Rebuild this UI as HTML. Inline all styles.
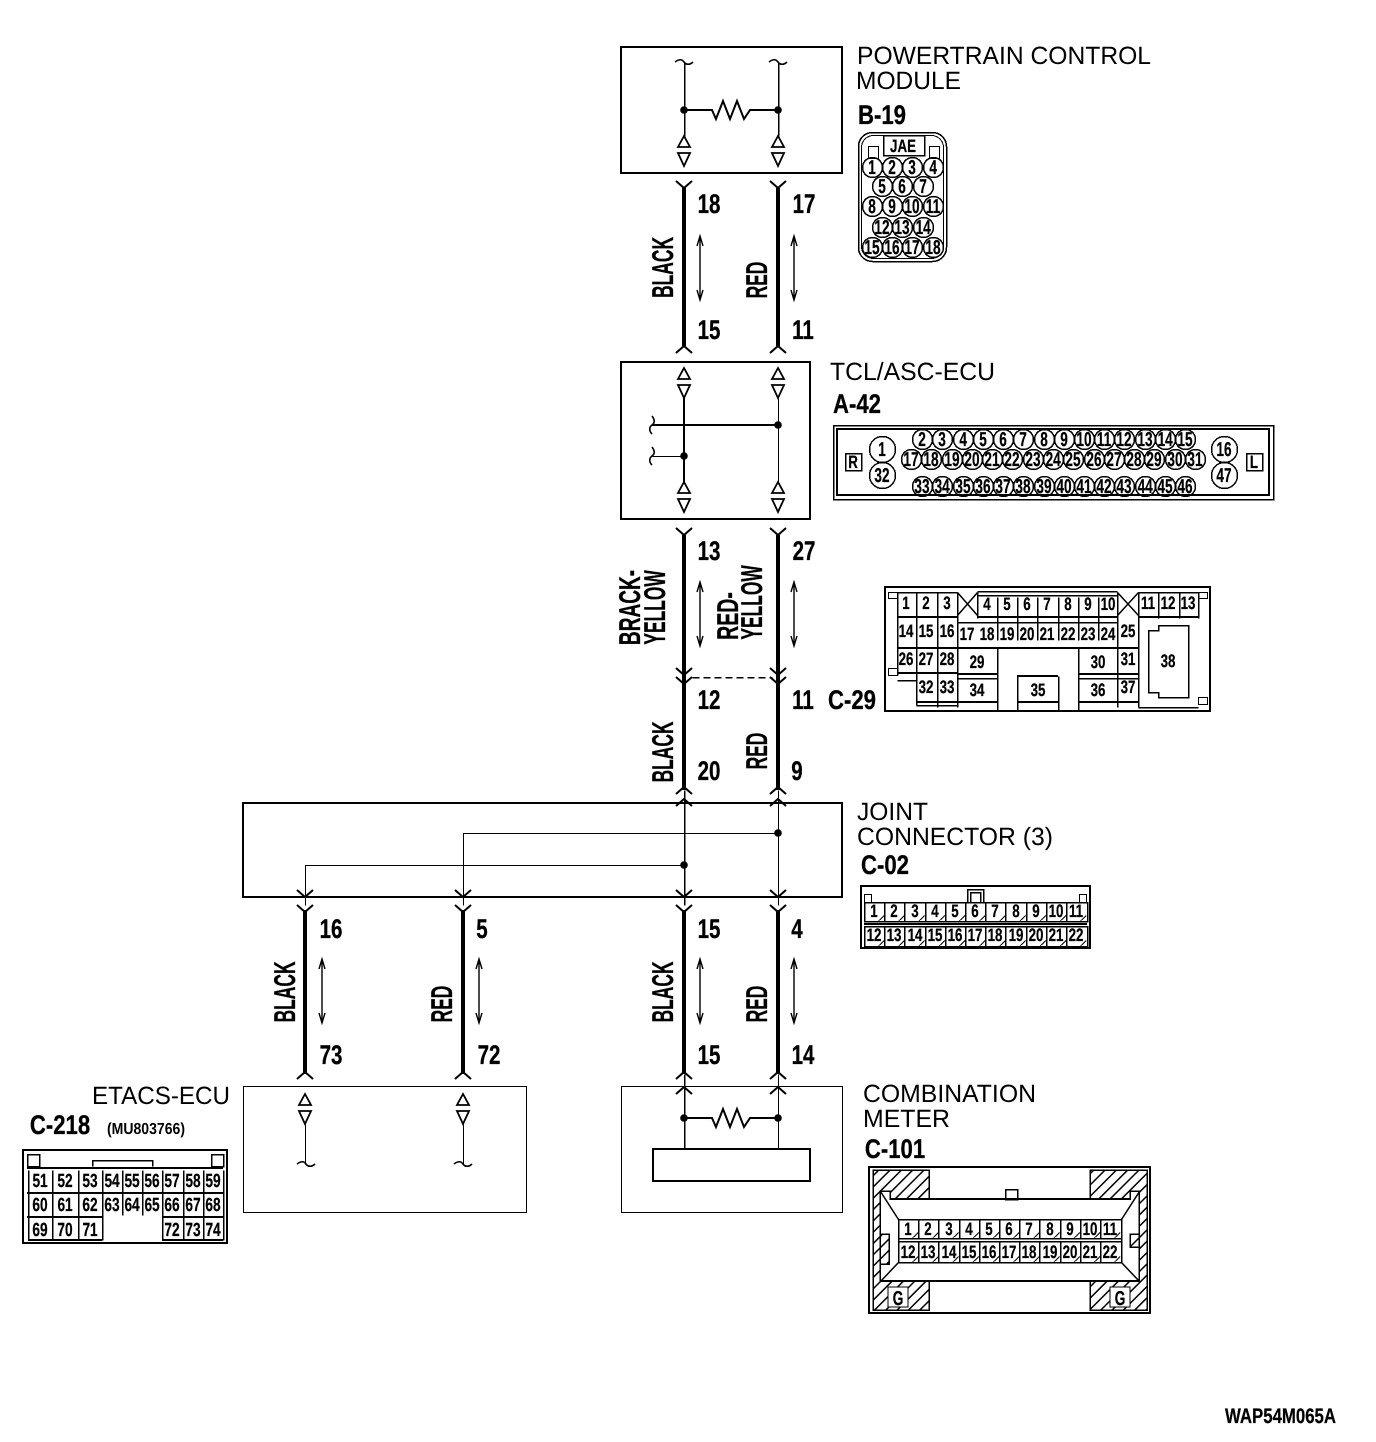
<!DOCTYPE html>
<html>
<head>
<meta charset="utf-8">
<style>
html,body{margin:0;padding:0;background:#fff}
svg{display:block}
text{fill:#000;text-rendering:geometricPrecision}
.t{font:25px "Liberation Sans",sans-serif}
.h,.n,.w,.p,.q,.r{font-family:"Liberation Sans",sans-serif;font-weight:bold;text-anchor:middle;transform-box:fill-box;transform-origin:center;stroke:#000}
.h{font-size:27px;transform:scaleX(.82);stroke-width:.3}
.n{font-size:27px;transform:scaleX(.76);stroke-width:.3}
.w{font-size:30px;transform:scaleX(.58);stroke-width:.3}
.p{font-size:20px;transform:scaleX(.68);stroke-width:.25}
.q{font-size:18px;transform:scaleX(.74);stroke-width:.25}
.r{font-size:19px;transform:scaleX(.72);stroke-width:.25}
.l{fill:none;stroke:#000;stroke-width:1.5}
.b{fill:none;stroke:#000;stroke-width:2}
.c{fill:none;stroke:#000;stroke-width:1.5;transform:translate(.5px,.5px)}
.th{fill:none;stroke:#000;stroke-width:1;transform:translate(.5px,.5px)}
.W{fill:none;stroke:#000;stroke-width:4}
</style>
</head>
<body>
<svg xmlns="http://www.w3.org/2000/svg" width="1376" height="1442" viewBox="0 0 1376 1442" shape-rendering="crispEdges">
<defs>
<pattern id="hatch" patternUnits="userSpaceOnUse" width="8" height="8" patternTransform="rotate(-45)">
<rect width="8" height="8" fill="#fff"/><rect x="0" y="0" width="8" height="1.6" fill="#000"/>
</pattern>
<pattern id="t1" patternUnits="userSpaceOnUse" x="864" y="915" width="20.2" height="6"><path d="M14.5 6L20.2 .5" stroke="#000" stroke-width="1" fill="none"/></pattern>
<pattern id="t2" patternUnits="userSpaceOnUse" x="864" y="940" width="20.2" height="6"><path d="M14.5 6L20.2 .5" stroke="#000" stroke-width="1" fill="none"/></pattern>
<pattern id="t3" patternUnits="userSpaceOnUse" x="898" y="1232" width="20.2" height="6"><path d="M14.5 6L20.2 .5" stroke="#000" stroke-width="1" fill="none"/></pattern>
<pattern id="t4" patternUnits="userSpaceOnUse" x="898" y="1256" width="20.2" height="6"><path d="M14.5 6L20.2 .5" stroke="#000" stroke-width="1" fill="none"/></pattern>
<path id="tri" d="M0 0L-6 11H6ZM-6 17H6L0 30Z" fill="#fff" stroke="#000" stroke-width="1.8" shape-rendering="auto"/>
<path id="ydn" d="M-8 -7L0 0L8 -7" fill="none" stroke="#000" stroke-width="2" shape-rendering="auto"/>
<path id="yup" d="M-8 7L0 0L8 7" fill="none" stroke="#000" stroke-width="2" shape-rendering="auto"/>
<path id="dot" d="M-3.8 0a3.8 3.8 0 1 0 7.6 0a3.8 3.8 0 1 0 -7.6 0Z" fill="#000" shape-rendering="auto"/>
<path id="arr" d="M0 0V64M-3 10L0 0L3 10M-3 54L0 64L3 54" fill="none" stroke="#000" stroke-width="1.4" shape-rendering="auto"/>
<path id="res" d="M0 0H28L32 9L39 -9L46 9L53 -9L60 9L66 0H94" fill="none" stroke="#000" stroke-width="2" shape-rendering="auto"/>
<path id="til" d="M-9 0C-5 -3 -2 -3 0 0C2 3 6 3 9 0" fill="none" stroke="#000" stroke-width="1.6" shape-rendering="auto"/>
</defs>

<!-- Main boxes -->
<rect x="621" y="47" width="221" height="126" class="b"/>
<rect x="621" y="362" width="189" height="157" class="b"/>
<rect x="243" y="803" width="599" height="94" class="b"/>
<rect x="243" y="1086" width="283" height="126" class="th"/>
<rect x="621" y="1086" width="221" height="126" class="th"/>
<rect x="653" y="1149" width="157" height="32" class="b"/>

<!-- PCM interior -->
<path class="c" d="M684 62V136M778 62V136"/>
<use href="#til" x="684" y="62"/><use href="#til" x="778" y="62"/>
<use href="#dot" x="684" y="110"/><use href="#dot" x="778" y="110"/>
<use href="#res" x="684" y="110"/>
<use href="#tri" x="684" y="136"/><use href="#tri" x="778" y="136"/>

<!-- Wire section 1 -->
<path class="W" d="M684 188V346"/><path class="W" d="M778 188V346"/>
<use href="#ydn" x="684" y="188"/><use href="#ydn" x="778" y="188"/>
<use href="#yup" x="684" y="346"/><use href="#yup" x="778" y="346"/>
<use href="#arr" x="700" y="236"/><use href="#arr" x="794" y="236"/>

<!-- TCL interior -->
<use href="#tri" x="684" y="368"/><use href="#tri" x="778" y="368"/>
<path class="b" d="M684 398V482M652 425H778"/>
<path class="th" d="M778 398V482M652 456H684"/>
<use href="#dot" x="778" y="425"/><use href="#dot" x="684" y="456"/>
<g transform="translate(652 425) rotate(90)"><use href="#til"/></g>
<g transform="translate(652 456) rotate(90)"><use href="#til"/></g>
<use href="#tri" x="684" y="482"/><use href="#tri" x="778" y="482"/>

<!-- Wire section 2 -->
<path class="W" d="M684 535V790M778 535V790"/>
<use href="#ydn" x="684" y="535"/><use href="#ydn" x="778" y="535"/>
<use href="#ydn" x="684" y="675"/><use href="#ydn" x="778" y="675"/>
<use href="#ydn" x="684" y="684"/><use href="#ydn" x="778" y="684"/>
<path class="c" stroke-dasharray="7 4" d="M692 677H772"/>
<use href="#arr" x="700" y="582"/><use href="#arr" x="794" y="582"/>

<!-- Joint connector -->
<use href="#yup" x="684" y="787"/><use href="#yup" x="778" y="787"/>
<use href="#yup" x="684" y="799"/><use href="#yup" x="778" y="799"/>
<path class="c" d="M684 790V905"/>
<path class="th" d="M778 790V905M778 833H463V905M684 865H305V905"/>
<use href="#dot" x="778" y="833"/><use href="#dot" x="684" y="865"/>
<use href="#ydn" x="305" y="897"/><use href="#ydn" x="463" y="897"/><use href="#ydn" x="684" y="897"/><use href="#ydn" x="778" y="897"/>
<use href="#ydn" x="305" y="912"/><use href="#ydn" x="463" y="912"/><use href="#ydn" x="684" y="912"/><use href="#ydn" x="778" y="912"/>

<!-- Wire section 3 -->
<path class="W" d="M305 910V1074M463 910V1074M684 910V1074M778 910V1074"/>
<use href="#yup" x="305" y="1072"/><use href="#yup" x="463" y="1072"/><use href="#yup" x="684" y="1072"/><use href="#yup" x="778" y="1072"/>
<use href="#arr" x="322" y="959"/><use href="#arr" x="479" y="959"/><use href="#arr" x="700" y="959"/><use href="#arr" x="794" y="959"/>

<!-- ETACS interior -->
<use href="#tri" x="305" y="1094"/><use href="#tri" x="463" y="1094"/>
<path class="th" d="M305 1124V1164M463 1124V1164"/>
<use href="#til" x="306" y="1164"/><use href="#til" x="463" y="1164"/>

<!-- Combination interior -->
<use href="#yup" x="684" y="1087"/><use href="#yup" x="778" y="1087"/>
<path class="c" d="M684 1074V1149"/><path class="th" d="M778 1074V1149"/>
<use href="#dot" x="684" y="1118"/><use href="#dot" x="778" y="1118"/>
<use href="#res" x="684" y="1118"/>

<!-- Pin numbers on wires -->
<text class="n" x="709" y="213">18</text><text class="n" x="804" y="213">17</text>
<text class="n" x="709" y="339">15</text><text class="n" x="803" y="339">11</text>
<text class="n" x="709" y="560">13</text><text class="n" x="804" y="560">27</text>
<text class="n" x="709" y="709">12</text><text class="n" x="803" y="709">11</text>
<text class="n" x="709" y="780">20</text><text class="n" x="797" y="780">9</text>
<text class="n" x="331" y="938">16</text><text class="n" x="482" y="938">5</text>
<text class="n" x="709" y="938">15</text><text class="n" x="797" y="938">4</text>
<text class="n" x="331" y="1064">73</text><text class="n" x="489" y="1064">72</text>
<text class="n" x="709" y="1064">15</text><text class="n" x="803" y="1064">14</text>

<!-- Wire colour labels -->
<g transform="translate(673 267.5) rotate(-90)"><text class="w">BLACK</text></g>
<g transform="translate(767 280) rotate(-90)"><text class="w">RED</text></g>
<g transform="translate(640 607.5) rotate(-90)"><text class="w" style="transform:scaleX(.635)">BRACK-</text></g>
<g transform="translate(665 607.5) rotate(-90)"><text class="w">YELLOW</text></g>
<g transform="translate(738 616) rotate(-90)"><text class="w" style="transform:scaleX(.65)">RED-</text></g>
<g transform="translate(762 602.5) rotate(-90)"><text class="w">YELLOW</text></g>
<g transform="translate(673 752) rotate(-90)"><text class="w">BLACK</text></g>
<g transform="translate(767 751) rotate(-90)"><text class="w">RED</text></g>
<g transform="translate(295 992) rotate(-90)"><text class="w">BLACK</text></g>
<g transform="translate(452 1004) rotate(-90)"><text class="w">RED</text></g>
<g transform="translate(673 992) rotate(-90)"><text class="w">BLACK</text></g>
<g transform="translate(767 1004) rotate(-90)"><text class="w">RED</text></g>

<!-- Component names -->
<text class="t" x="857" y="64" textLength="294" lengthAdjust="spacingAndGlyphs">POWERTRAIN CONTROL</text>
<text class="t" x="856" y="89" textLength="105" lengthAdjust="spacingAndGlyphs">MODULE</text>
<text class="h" x="882" y="124">B-19</text>
<text class="t" x="830" y="380" textLength="165" lengthAdjust="spacingAndGlyphs">TCL/ASC-ECU</text>
<text class="h" x="857" y="413">A-42</text>
<text class="h" x="852" y="709">C-29</text>
<text class="t" x="857" y="820" textLength="71" lengthAdjust="spacingAndGlyphs">JOINT</text>
<text class="t" x="857" y="845" textLength="196" lengthAdjust="spacingAndGlyphs">CONNECTOR (3)</text>
<text class="h" x="885" y="874">C-02</text>
<text class="t" x="92" y="1104" textLength="138" lengthAdjust="spacingAndGlyphs">ETACS-ECU</text>
<text class="h" x="60" y="1134">C-218</text>
<text x="146" y="1134" text-anchor="middle" font-family="Liberation Sans" font-weight="bold" font-size="16" textLength="78" lengthAdjust="spacingAndGlyphs">(MU803766)</text>
<text class="t" x="863" y="1102" textLength="173" lengthAdjust="spacingAndGlyphs">COMBINATION</text>
<text class="t" x="863" y="1127" textLength="87" lengthAdjust="spacingAndGlyphs">METER</text>
<text class="h" x="895" y="1158">C-101</text>
<text x="1225" y="1423" font-family="Liberation Sans" font-weight="bold" font-size="21" stroke="#000" stroke-width=".25" textLength="111" lengthAdjust="spacingAndGlyphs">WAP54M065A</text>

<!-- B-19 connector -->
<rect x="858" y="132" width="88" height="129" rx="14" class="c"/>
<rect x="861" y="135" width="82" height="123" rx="12" class="th"/>
<rect x="883" y="135" width="41" height="20" class="c"/>
<rect x="868" y="146" width="10" height="12" class="th"/>
<rect x="929" y="146" width="10" height="12" class="th"/>
<text class="q" x="903" y="152">JAE</text>
<g class="c">
<circle cx="872" cy="167" r="10"/><circle cx="892" cy="167" r="10"/><circle cx="912" cy="167" r="10"/><circle cx="933" cy="167" r="10"/>
<circle cx="882" cy="186" r="10"/><circle cx="902" cy="186" r="10"/><circle cx="923" cy="186" r="10"/>
<circle cx="872" cy="206" r="10"/><circle cx="892" cy="206" r="10"/><circle cx="912" cy="206" r="10"/><circle cx="933" cy="206" r="10"/>
<circle cx="882" cy="227" r="10"/><circle cx="902" cy="227" r="10"/><circle cx="923" cy="227" r="10"/>
<circle cx="872" cy="247" r="10"/><circle cx="892" cy="247" r="10"/><circle cx="912" cy="247" r="10"/><circle cx="933" cy="247" r="10"/>
</g>
<text class="p" x="872" y="174">1</text><text class="p" x="892" y="174">2</text><text class="p" x="912" y="174">3</text><text class="p" x="933" y="174">4</text>
<text class="p" x="882" y="193">5</text><text class="p" x="902" y="193">6</text><text class="p" x="923" y="193">7</text>
<text class="p" x="872" y="213">8</text><text class="p" x="892" y="213">9</text><text class="p" x="912" y="213">10</text><text class="p" x="933" y="213">11</text>
<text class="p" x="882" y="234">12</text><text class="p" x="902" y="234">13</text><text class="p" x="923" y="234">14</text>
<text class="p" x="872" y="254">15</text><text class="p" x="892" y="254">16</text><text class="p" x="912" y="254">17</text><text class="p" x="933" y="254">18</text>

<!-- A-42 connector -->
<rect x="833" y="425" width="440" height="74" class="c"/>
<rect x="837" y="429" width="432" height="66" class="b"/>
<rect x="845" y="453" width="16" height="17" class="c"/><text class="q" x="853" y="468">R</text>
<rect x="1246" y="453" width="16" height="17" class="c"/><text class="q" x="1254" y="468">L</text>
<g class="c">
<circle cx="882" cy="449" r="13"/><circle cx="882" cy="475" r="13"/><circle cx="1224" cy="449" r="13"/><circle cx="1224" cy="475" r="13"/>
<circle cx="922" cy="439" r="10"/><circle cx="942" cy="439" r="10"/><circle cx="963" cy="439" r="10"/><circle cx="983" cy="439" r="10"/><circle cx="1003" cy="439" r="10"/><circle cx="1023" cy="439" r="10"/><circle cx="1044" cy="439" r="10"/><circle cx="1064" cy="439" r="10"/><circle cx="1084" cy="439" r="10"/><circle cx="1104" cy="439" r="10"/><circle cx="1124" cy="439" r="10"/><circle cx="1145" cy="439" r="10"/><circle cx="1165" cy="439" r="10"/><circle cx="1185" cy="439" r="10"/>
<circle cx="911" cy="459" r="10"/><circle cx="931" cy="459" r="10"/><circle cx="952" cy="459" r="10"/><circle cx="972" cy="459" r="10"/><circle cx="992" cy="459" r="10"/><circle cx="1012" cy="459" r="10"/><circle cx="1033" cy="459" r="10"/><circle cx="1053" cy="459" r="10"/><circle cx="1073" cy="459" r="10"/><circle cx="1094" cy="459" r="10"/><circle cx="1114" cy="459" r="10"/><circle cx="1134" cy="459" r="10"/><circle cx="1154" cy="459" r="10"/><circle cx="1175" cy="459" r="10"/><circle cx="1195" cy="459" r="10"/>
<circle cx="922" cy="486" r="10"/><circle cx="942" cy="486" r="10"/><circle cx="963" cy="486" r="10"/><circle cx="983" cy="486" r="10"/><circle cx="1003" cy="486" r="10"/><circle cx="1023" cy="486" r="10"/><circle cx="1044" cy="486" r="10"/><circle cx="1064" cy="486" r="10"/><circle cx="1084" cy="486" r="10"/><circle cx="1104" cy="486" r="10"/><circle cx="1124" cy="486" r="10"/><circle cx="1145" cy="486" r="10"/><circle cx="1165" cy="486" r="10"/><circle cx="1185" cy="486" r="10"/>
</g>
<text class="p" x="882" y="456">1</text><text class="p" x="882" y="482">32</text><text class="p" x="1224" y="456">16</text><text class="p" x="1224" y="482">47</text>
<text class="p" x="922" y="446">2</text><text class="p" x="942" y="446">3</text><text class="p" x="963" y="446">4</text><text class="p" x="983" y="446">5</text><text class="p" x="1003" y="446">6</text><text class="p" x="1023" y="446">7</text><text class="p" x="1044" y="446">8</text><text class="p" x="1064" y="446">9</text><text class="p" x="1084" y="446">10</text><text class="p" x="1104" y="446">11</text><text class="p" x="1124" y="446">12</text><text class="p" x="1145" y="446">13</text><text class="p" x="1165" y="446">14</text><text class="p" x="1185" y="446">15</text>
<text class="p" x="911" y="466">17</text><text class="p" x="931" y="466">18</text><text class="p" x="952" y="466">19</text><text class="p" x="972" y="466">20</text><text class="p" x="992" y="466">21</text><text class="p" x="1012" y="466">22</text><text class="p" x="1033" y="466">23</text><text class="p" x="1053" y="466">24</text><text class="p" x="1073" y="466">25</text><text class="p" x="1094" y="466">26</text><text class="p" x="1114" y="466">27</text><text class="p" x="1134" y="466">28</text><text class="p" x="1154" y="466">29</text><text class="p" x="1175" y="466">30</text><text class="p" x="1195" y="466">31</text>
<text class="p" x="922" y="493">33</text><text class="p" x="942" y="493">34</text><text class="p" x="963" y="493">35</text><text class="p" x="983" y="493">36</text><text class="p" x="1003" y="493">37</text><text class="p" x="1023" y="493">38</text><text class="p" x="1044" y="493">39</text><text class="p" x="1064" y="493">40</text><text class="p" x="1084" y="493">41</text><text class="p" x="1104" y="493">42</text><text class="p" x="1124" y="493">43</text><text class="p" x="1145" y="493">44</text><text class="p" x="1165" y="493">45</text><text class="p" x="1185" y="493">46</text>

<!-- C-29 connector -->
<rect x="885" y="587" width="325" height="124" class="b"/>
<rect x="888" y="592" width="9" height="6" class="th"/><rect x="1198" y="592" width="9" height="6" class="th"/>
<rect x="888" y="668" width="9" height="7" class="th"/><rect x="1198" y="697" width="9" height="7" class="th"/>
<path class="c" d="M897 592V675M916 592V648M937 592V707M957 592V707M897 592H957M977 592V618M997 597V640M1017 597V640M1037 597V640M1058 597V640M1078 597V640M1098 597V640M1117 592V707M1138 592V707M1158 592V618M1179 592V618M1198 592V618M1138 592H1198M977 591H1117"/>
<path class="c" d="M977 595H1117M916 648V705M916 705H957M897 680H916M1138 707H1198"/>
<path class="b" d="M897 617H957M977 617H1117M1138 617H1198"/>
<path class="c" d="M957 592L977 615M977 592L957 615M1117 592L1138 615M1138 592L1117 615" shape-rendering="auto"/>
<path class="b" d="M897 648H1138M897 673H957M957 674H997M1078 674H1138"/>
<path class="c" d="M957 622H1117M957 678H997M1078 678H1138M997 648V710M1078 648V710M1017 676V710M1058 676V710"/>
<path class="b" d="M1017 676H1058M957 702H997M1017 702H1058M1078 702H1138M916 702H957"/>
<path class="c" d="M1148 630H1158V625H1188V697H1158V692H1148Z"/>
<text class="q" x="906" y="609">1</text><text class="q" x="926" y="609">2</text><text class="q" x="947" y="609">3</text>
<text class="q" x="987" y="610">4</text><text class="q" x="1007" y="610">5</text><text class="q" x="1027" y="610">6</text><text class="q" x="1047" y="610">7</text><text class="q" x="1068" y="610">8</text><text class="q" x="1088" y="610">9</text><text class="q" x="1108" y="610">10</text>
<text class="q" x="1148" y="609">11</text><text class="q" x="1168" y="609">12</text><text class="q" x="1188" y="609">13</text>
<text class="q" x="906" y="637">14</text><text class="q" x="926" y="637">15</text><text class="q" x="947" y="637">16</text>
<text class="q" x="967" y="640">17</text><text class="q" x="987" y="640">18</text><text class="q" x="1007" y="640">19</text><text class="q" x="1027" y="640">20</text><text class="q" x="1047" y="640">21</text><text class="q" x="1068" y="640">22</text><text class="q" x="1088" y="640">23</text><text class="q" x="1108" y="640">24</text>
<text class="q" x="1128" y="637">25</text>
<text class="q" x="906" y="665">26</text><text class="q" x="926" y="665">27</text><text class="q" x="947" y="665">28</text>
<text class="q" x="977" y="668">29</text><text class="q" x="1098" y="668">30</text><text class="q" x="1128" y="665">31</text>
<text class="q" x="926" y="693">32</text><text class="q" x="947" y="693">33</text><text class="q" x="977" y="696">34</text><text class="q" x="1038" y="696">35</text><text class="q" x="1098" y="696">36</text><text class="q" x="1128" y="693">37</text>
<text class="q" x="1168" y="667">38</text>

<!-- C-02 connector -->
<rect x="861" y="886" width="229" height="62" class="b"/>
<rect x="864" y="894" width="7" height="8" class="th"/><rect x="1079" y="894" width="7" height="8" class="th"/>
<path class="c" d="M967 902V889H983V902M970 902V892H980V902"/>
<path class="c" d="M864 902H1087V921H864ZM864 926H1087V946H864Z"/>
<path class="b" d="M864 924H1087"/>
<path class="c" d="M884 902V921M904 902V921M925 902V921M945 902V921M965 902V921M985 902V921M1005 902V921M1026 902V921M1046 902V921M1066 902V921M884 926V946M904 926V946M925 926V946M945 926V946M965 926V946M985 926V946M1005 926V946M1026 926V946M1046 926V946M1066 926V946"/>
<rect x="864" y="915" width="223" height="6" fill="url(#t1)"/><rect x="864" y="940" width="223" height="6" fill="url(#t2)"/>
<text class="q" x="874" y="917">1</text><text class="q" x="894" y="917">2</text><text class="q" x="915" y="917">3</text><text class="q" x="935" y="917">4</text><text class="q" x="955" y="917">5</text><text class="q" x="975" y="917">6</text><text class="q" x="995" y="917">7</text><text class="q" x="1016" y="917">8</text><text class="q" x="1036" y="917">9</text><text class="q" x="1056" y="917">10</text><text class="q" x="1076" y="917">11</text>
<text class="q" x="874" y="941">12</text><text class="q" x="894" y="941">13</text><text class="q" x="915" y="941">14</text><text class="q" x="935" y="941">15</text><text class="q" x="955" y="941">16</text><text class="q" x="975" y="941">17</text><text class="q" x="995" y="941">18</text><text class="q" x="1016" y="941">19</text><text class="q" x="1036" y="941">20</text><text class="q" x="1056" y="941">21</text><text class="q" x="1076" y="941">22</text>

<!-- C-218 connector -->
<rect x="23" y="1150" width="204" height="93" class="b"/>
<rect x="27" y="1154" width="12" height="12" class="c"/><rect x="211" y="1154" width="12" height="12" class="c"/>
<path class="c" d="M92 1166V1160H152V1166"/>
<path class="b" d="M27 1168H223M27 1193H223M27 1217H102M162 1217H223M28 1240H102M162 1240H223"/>
<path class="c" d="M28 1170V1240M102 1170V1240M52 1170V1240M78 1170V1240M122 1170V1215M142 1170V1215M162 1170V1240M223 1170V1240M183 1170V1240M203 1170V1240"/>
<text class="r" x="40" y="1187">51</text><text class="r" x="65" y="1187">52</text><text class="r" x="90" y="1187">53</text><text class="r" x="112" y="1187">54</text><text class="r" x="132" y="1187">55</text><text class="r" x="152" y="1187">56</text><text class="r" x="172" y="1187">57</text><text class="r" x="193" y="1187">58</text><text class="r" x="213" y="1187">59</text>
<text class="r" x="40" y="1211">60</text><text class="r" x="65" y="1211">61</text><text class="r" x="90" y="1211">62</text><text class="r" x="112" y="1211">63</text><text class="r" x="132" y="1211">64</text><text class="r" x="152" y="1211">65</text><text class="r" x="172" y="1211">66</text><text class="r" x="193" y="1211">67</text><text class="r" x="213" y="1211">68</text>
<text class="r" x="40" y="1236">69</text><text class="r" x="65" y="1236">70</text><text class="r" x="90" y="1236">71</text><text class="r" x="172" y="1236">72</text><text class="r" x="193" y="1236">73</text><text class="r" x="213" y="1236">74</text>

<!-- C-101 connector -->
<rect x="869" y="1167" width="281" height="146" class="b"/>
<path d="M873 1170H929V1199H890V1191H880V1281H929V1310H873Z" fill="url(#hatch)" stroke="#000" stroke-width="1.5"/>
<path d="M1090 1170H1147V1310H1090V1281H1139V1191H1130V1199H1090Z" fill="url(#hatch)" stroke="#000" stroke-width="1.5"/>
<rect x="880" y="1234" width="9" height="30" fill="url(#hatch)" stroke="#000" stroke-width="1.5"/>
<rect x="1130" y="1234" width="9" height="13" fill="url(#hatch)" stroke="#000" stroke-width="1.5"/>
<rect x="1005" y="1189" width="12" height="10" class="c"/>
<path class="b" d="M890 1199H1130M880 1281H1139"/>
<path class="c" d="M880 1191L898 1219M1139 1191L1121 1219M880 1281L898 1262M1139 1281L1121 1262" shape-rendering="auto"/>
<rect x="898" y="1219" width="223" height="43" class="c"/>
<path class="c" d="M898 1238H1121M898 1241H1121M918 1219V1238M938 1219V1238M959 1219V1238M979 1219V1238M999 1219V1238M1019 1219V1238M1039 1219V1238M1060 1219V1238M1080 1219V1238M1100 1219V1238M918 1241V1262M938 1241V1262M959 1241V1262M979 1241V1262M999 1241V1262M1019 1241V1262M1039 1241V1262M1060 1241V1262M1080 1241V1262M1100 1241V1262"/>
<rect x="898" y="1232" width="223" height="6" fill="url(#t3)"/><rect x="898" y="1256" width="223" height="6" fill="url(#t4)"/>
<text class="q" x="908" y="1235">1</text><text class="q" x="928" y="1235">2</text><text class="q" x="949" y="1235">3</text><text class="q" x="969" y="1235">4</text><text class="q" x="989" y="1235">5</text><text class="q" x="1009" y="1235">6</text><text class="q" x="1029" y="1235">7</text><text class="q" x="1050" y="1235">8</text><text class="q" x="1070" y="1235">9</text><text class="q" x="1090" y="1235">10</text><text class="q" x="1110" y="1235">11</text>
<text class="q" x="908" y="1258">12</text><text class="q" x="928" y="1258">13</text><text class="q" x="949" y="1258">14</text><text class="q" x="969" y="1258">15</text><text class="q" x="989" y="1258">16</text><text class="q" x="1009" y="1258">17</text><text class="q" x="1029" y="1258">18</text><text class="q" x="1050" y="1258">19</text><text class="q" x="1070" y="1258">20</text><text class="q" x="1090" y="1258">21</text><text class="q" x="1110" y="1258">22</text>
<rect x="888" y="1287" width="20" height="20" fill="#fff" stroke="#000" stroke-width="1.4"/><text class="p" x="898" y="1305">G</text>
<rect x="1110" y="1287" width="20" height="20" fill="#fff" stroke="#000" stroke-width="1.4"/><text class="p" x="1120" y="1305">G</text>
</svg>
</body>
</html>
